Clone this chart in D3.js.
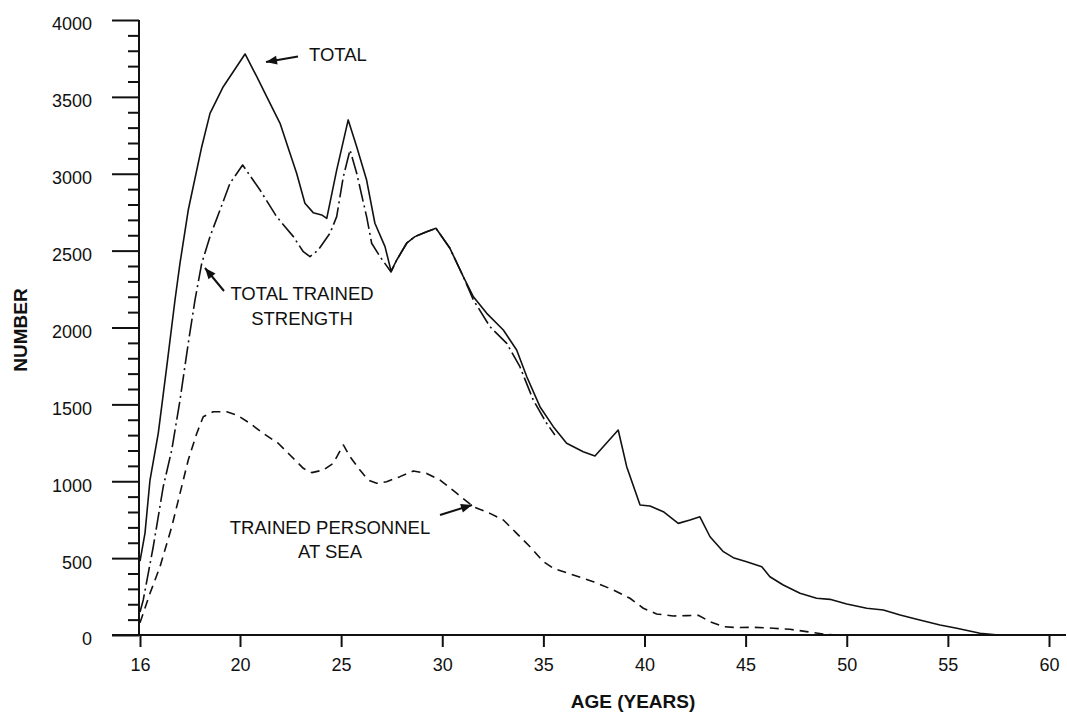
<!DOCTYPE html>
<html>
<head>
<meta charset="utf-8">
<script src="https://cdn.jsdelivr.net/npm/d3@7"></script>
<style>
  html, body { margin: 0; padding: 0; background: #fff; }
  svg { display: block; }
  text { font-family: "Liberation Sans", Arial, Helvetica, sans-serif; fill: #111; }
</style>
</head>
<body>
<svg id="chart" width="1067" height="720"></svg>
<script>
// ---- Data ----
const xTickValues = [16, 20, 25, 30, 35, 40, 45, 50, 55, 60];
const yTickValues = [0, 500, 1000, 1500, 2000, 2500, 3000, 3500, 4000];

const totalAge = [16, 16.2, 16.4, 16.73, 17.07, 17.4, 17.6, 17.93, 18.47, 18.8, 19.33, 20.25,
  20.83, 21.32, 21.98, 22.47, 22.8, 23.21, 23.62, 24.04, 24.29, 24.78, 25.35, 25.77, 26.26,
  26.67, 27.17, 27.47, 27.75, 28.24, 28.65, 29.23, 29.69, 30.38, 31.04, 31.54, 32.2, 33.02,
  33.68, 34.18, 34.83, 35.49, 36.15, 36.97, 37.55, 38.7, 39.12, 39.78, 40.27, 40.93, 41.67,
  42.25, 42.74, 43.24, 43.9, 44.39, 45.05, 45.8, 46.2, 46.86, 47.69, 48.51, 49.17, 50.0,
  50.99, 51.81, 52.64, 53.46, 54.61, 55.44, 56.59, 57.5];
const totalValue = [480, 663, 1008, 1312, 1745, 2179, 2418, 2764, 3176, 3393, 3566, 3779,
  3631, 3501, 3328, 3133, 3003, 2808, 2747, 2732, 2710, 3024, 3350, 3176, 2959,
  2678, 2526, 2367, 2439, 2548, 2591, 2623, 2645, 2515, 2331, 2200, 2092, 1984,
  1854, 1680, 1485, 1355, 1247, 1192, 1164, 1333, 1095, 846, 839, 802, 726,
  748, 769, 639, 542, 503, 477, 444, 379, 325, 271, 239, 232, 202,
  174, 163, 130, 102, 65, 44, 11, 0];

const trainedAge = [16, 16.13, 16.53, 16.93, 17.27, 17.6, 17.93, 18.2, 18.47, 18.8, 19.2, 19.6,
  20.13, 20.99, 21.81, 22.64, 23.13, 23.46, 23.87, 24.45, 24.78, 25.11, 25.44, 25.77, 26.26,
  26.51, 26.92, 27.47, 27.75, 28.24, 28.65, 29.23, 29.69, 30.38, 31.04, 31.54, 32.36, 33.19,
  33.84, 34.5, 35.16, 35.57];
const trainedValue = [150, 228, 574, 965, 1203, 1528, 1897, 2179, 2418, 2591, 2764, 2938,
  3057, 2894, 2721, 2591, 2493, 2461, 2504, 2613, 2721, 2981, 3155, 3003, 2721,
  2548, 2461, 2361, 2439, 2548, 2591, 2623, 2645, 2515, 2331, 2179, 2005, 1897,
  1745, 1528, 1377, 1301];

const seaAge = [16, 16.4, 16.8, 17.27, 17.6, 17.93, 18.27, 18.53, 18.93, 19.47, 19.87, 20.49,
  21.15, 21.89, 22.47, 23.13, 23.55, 24.12, 24.61, 25.11, 25.44, 25.93, 26.34, 26.76, 27.25,
  27.91, 28.57, 29.23, 29.89, 30.71, 31.54, 32.36, 33.02, 33.68, 34.34, 35.0, 35.49, 36.48,
  37.47, 38.46, 39.28, 39.94, 40.6, 41.42, 42.08, 42.66, 43.24, 43.9, 44.56, 45.38, 46.37,
  47.19, 48.01, 48.83, 49.5];
const seaValue = [80, 271, 444, 704, 921, 1138, 1311, 1420, 1452, 1452, 1431, 1377,
  1311, 1247, 1171, 1084, 1056, 1073, 1117, 1236, 1160, 1073, 1008, 987, 997,
  1030, 1067, 1051, 1008, 922, 834, 791, 748, 661, 574, 477, 434, 390,
  347, 293, 239, 174, 137, 124, 126, 128, 87, 54, 48, 50, 44,
  37, 22, 7, 0];

// ---- Chart ----
const svg = d3.select("#chart");
const x = d3.scaleLinear().domain([16, 20, 60]).range([140, 240, 1049]);
const y = d3.scaleLinear().domain([0, 4000]).range([635, 20]);

const ink = "#111";

// Y axis major ticks + labels
const yAxis = d3.axisLeft(y).tickValues(yTickValues).tickSize(27).tickPadding(20)
  .tickSizeOuter(0).tickFormat(d3.format("d"));
const gy = svg.append("g").attr("transform", "translate(139,0)").call(yAxis);
gy.select(".domain").remove();
gy.selectAll(".tick line").attr("stroke", ink).attr("stroke-width", 2);
gy.selectAll(".tick text").attr("font-size", 18).attr("dy", "0.55em")
  .style("font-family", '"Liberation Sans", Arial, sans-serif').attr("fill", ink);

// Y minor ticks every 100
const minor = d3.range(0, 4001, 100).filter(v => v % 500 !== 0);
const yMinor = d3.axisLeft(y).tickValues(minor).tickSize(11).tickFormat("").tickSizeOuter(0);
const gym = svg.append("g").attr("transform", "translate(139,0)").call(yMinor);
gym.select(".domain").remove();
gym.selectAll(".tick line").attr("stroke", ink).attr("stroke-width", 2);

// Y axis line
svg.append("line").attr("x1", 139).attr("x2", 139).attr("y1", y(4000)).attr("y2", y(0))
  .attr("stroke", ink).attr("stroke-width", 2);

// X axis
const xAxis = d3.axisBottom(x).tickValues(xTickValues).tickSize(12).tickPadding(11)
  .tickSizeOuter(0).tickFormat(d3.format("d"));
const gx = svg.append("g").attr("transform", `translate(0,${y(0)})`).call(xAxis);
gx.select(".domain").remove();
gx.selectAll(".tick line").attr("stroke", ink).attr("stroke-width", 2);
gx.selectAll(".tick text").attr("font-size", 18)
  .style("font-family", '"Liberation Sans", Arial, sans-serif').attr("fill", ink);
svg.append("line").attr("x1", 112).attr("x2", 1066).attr("y1", y(0)).attr("y2", y(0))
  .attr("stroke", ink).attr("stroke-width", 2);

// Axis titles
svg.append("text").attr("x", 633).attr("y", 708).attr("text-anchor", "middle")
  .attr("font-size", 19).attr("font-weight", "bold").text("AGE (YEARS)");
svg.append("text").attr("transform", "translate(27,330) rotate(-90)").attr("text-anchor", "middle")
  .attr("font-size", 19).attr("font-weight", "bold").text("NUMBER");

// Lines
const line = d3.line().x(d => x(d[0])).y(d => y(d[1]));
const series = [
  { ages: totalAge, vals: totalValue, dash: null },
  { ages: trainedAge, vals: trainedValue, dash: "18,4,2,4" },
  { ages: seaAge, vals: seaValue, dash: "9,6" }
];
series.forEach(s => {
  const pts = s.ages.map((a, i) => [a, s.vals[i]]);
  svg.append("path").datum(pts).attr("d", line).attr("fill", "none")
    .attr("stroke", ink).attr("stroke-width", 1.6).attr("stroke-linejoin", "round")
    .attr("stroke-dasharray", s.dash);
});

// Annotations
function arrow(x1, y1, x2, y2) {
  svg.append("line").attr("x1", x1).attr("y1", y1).attr("x2", x2).attr("y2", y2)
    .attr("stroke", ink).attr("stroke-width", 2);
  const ang = Math.atan2(y2 - y1, x2 - x1);
  const L = 11, W = 4.5;
  const bx = x2 - L * Math.cos(ang), by = y2 - L * Math.sin(ang);
  const px = -Math.sin(ang) * W, py = Math.cos(ang) * W;
  svg.append("polygon")
    .attr("points", `${x2},${y2} ${bx + px},${by + py} ${bx - px},${by - py}`)
    .attr("fill", ink);
}
const fs = 18.5;
svg.append("text").attr("x", 309).attr("y", 61).attr("font-size", fs).text("TOTAL");
arrow(298, 56.5, 266, 62);

svg.append("text").attr("x", 302).attr("y", 300).attr("text-anchor", "middle").attr("font-size", fs).text("TOTAL TRAINED");
svg.append("text").attr("x", 302).attr("y", 325).attr("text-anchor", "middle").attr("font-size", fs).text("STRENGTH");
arrow(224, 291, 205, 268);

svg.append("text").attr("x", 330).attr("y", 534).attr("text-anchor", "middle").attr("font-size", fs).text("TRAINED PERSONNEL");
svg.append("text").attr("x", 330).attr("y", 558).attr("text-anchor", "middle").attr("font-size", fs).text("AT SEA");
arrow(440, 515, 472, 505);
</script>
</body>
</html>
